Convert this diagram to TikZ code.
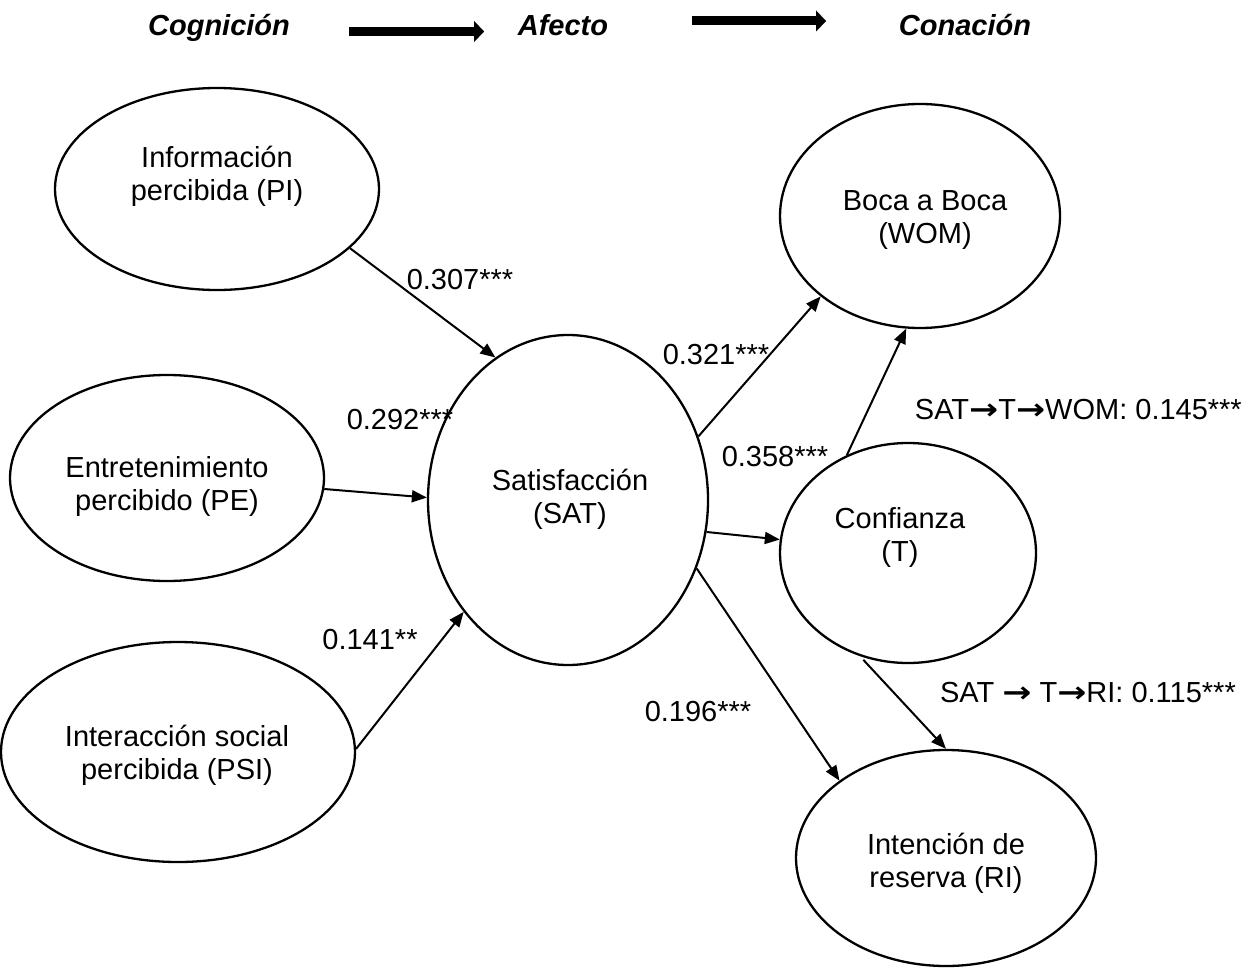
\documentclass[tikz,border=0pt]{standalone}
\usepackage{fontspec}
\setmainfont{Liberation Sans}
\newfontfamily\symfont{DejaVu Sans}
\usetikzlibrary{arrows.meta,shapes.geometric,calc}
\newcommand\myarr{{\symfont\bfseries\scalebox{1.2}[1]{→}}}
\begin{document}
\begin{tikzpicture}[x=1pt,y=-1pt,
  latent/.style={draw,line width=2.3pt,ellipse,inner sep=0pt},
  txt/.style={font=\fontsize{29}{33}\selectfont,align=center,inner sep=0pt},
  coef/.style={font=\fontsize{29}{33}\selectfont,inner sep=0pt},
  head/.style={font=\fontsize{29}{33}\selectfont\bfseries\itshape,inner sep=0pt,anchor=base},
  link/.style={line width=2pt,-{Triangle[length=15pt,width=12pt]}},
  big/.style={line width=9pt,-{Triangle[length=10pt,width=21pt,line width=0.01pt]}}]
\useasboundingbox (0,0) rectangle (1246,968);

% header
\node[head] (cog) at (219,36) {Cognición};
\node[head] (afe) at (563,36) {Afecto};
\node[head] (con) at (965,36) {Conación};
\coordinate (a1s) at (349,31.5);
\coordinate (a1e) at (484,31.5);
\coordinate (a2s) at (692,21);
\coordinate (a2e) at (826,21);
\draw[big] (a1s) -- (a1e);
\draw[big] (a2s) -- (a2e);

% constructs
\node[latent,minimum width=324pt,minimum height=202pt] (PI) at (217,189) {};
\node[txt] (PIt) at (217,176) {Información\\percibida (PI)};
\node[latent,minimum width=314pt,minimum height=206pt] (PE) at (167,478) {};
\node[txt] (PEt) at (167,486) {Entretenimiento\\percibido (PE)};
\node[latent,minimum width=354pt,minimum height=220pt] (PSI) at (178,752) {};
\node[txt] (PSIt) at (177,755) {Interacción social\\percibida (PSI)};
\node[latent,minimum width=280pt,minimum height=330pt] (SAT) at (568,500) {};
\node[txt] (SATt) at (570,499) {Satisfacción\\(SAT)};
\node[latent,minimum width=280pt,minimum height=224pt] (WOM) at (920,216) {};
\node[txt] (WOMt) at (925,220) {Boca a Boca\\(WOM)};
\node[latent,minimum width=256pt,minimum height=220pt] (T) at (908,553) {};
\node[txt] (Tt) at (900,537) {Confianza\\(T)};
\node[latent,minimum width=300pt,minimum height=216pt] (RI) at (946,858) {};
\node[txt] (RIt) at (946,863) {Intención de\\reserva (RI)};

% paths
\draw[link] (PI.-24.6) -- (SAT.117.4);
\draw[link] (PE.-4.4) -- (SAT.179);
\draw[link] (PSI.1.3) -- (SAT.227.6);
\draw[link] (SAT.26) -- (WOM.219.9);
\draw[link] (SAT.-13.5) -- (T.174.4);
\draw[link] (T.122.8) -- (WOM.263);
\draw[link] (SAT.-28.7) -- (RI.144.1);
\draw[link,shorten <=5pt] (T.245.6) -- (RI.90);

% coefficients
\node[coef] (c1) at (460,280) {0.307***};
\node[coef] (c2) at (400,420) {0.292***};
\node[coef] (c3) at (370,640) {0.141**};
\node[coef] (c4) at (716,355) {0.321***};
\node[coef] (c5) at (775,457) {0.358***};
\node[coef] (c6) at (698,712) {0.196***};
\node[coef,anchor=east] (c7) at (1242,410) {SAT\myarr T\myarr WOM: 0.145***};
\node[coef,anchor=east] (c8) at (1236,693) {SAT \myarr\ T\myarr RI: 0.115***};
\end{tikzpicture}
\end{document}
